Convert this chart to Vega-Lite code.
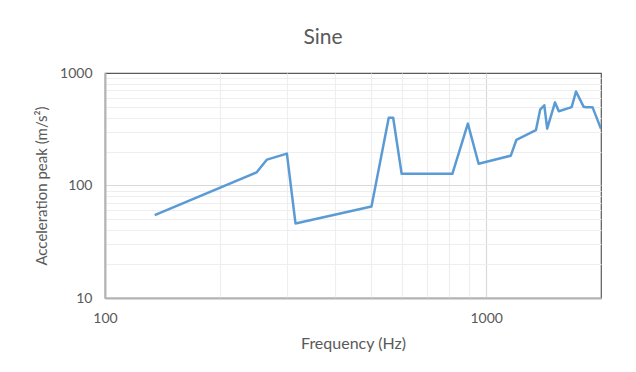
{
  "$schema": "https://vega.github.io/schema/vega-lite/v6.json",
  "autosize": {"type": "none"},
  "padding": {"left": 105, "top": 73, "right": 35, "bottom": 74},
  "width": 496,
  "height": 225,
  "background": "white",
  "title": {
    "text": "Sine",
    "fontSize": 21,
    "font": "Lato",
    "fontWeight": "normal",
    "color": "#595959",
    "anchor": "middle",
    "frame": "group",
    "dx": -30,
    "offset": 18
  },
  "data": {
    "values": [
      {"f": 135, "a": 54.5},
      {"f": 250, "a": 131},
      {"f": 266, "a": 170},
      {"f": 300, "a": 192},
      {"f": 316, "a": 46},
      {"f": 500, "a": 65},
      {"f": 555, "a": 400},
      {"f": 570, "a": 400},
      {"f": 600, "a": 127},
      {"f": 815, "a": 127},
      {"f": 895, "a": 355},
      {"f": 955, "a": 156},
      {"f": 1160, "a": 184},
      {"f": 1200, "a": 255},
      {"f": 1350, "a": 310},
      {"f": 1385, "a": 472},
      {"f": 1420, "a": 517},
      {"f": 1445, "a": 320},
      {"f": 1515, "a": 548},
      {"f": 1550, "a": 457},
      {"f": 1675, "a": 497},
      {"f": 1720, "a": 685},
      {"f": 1800, "a": 502},
      {"f": 1830, "a": 497},
      {"f": 1900, "a": 497},
      {"f": 2000, "a": 319}
    ]
  },
  "mark": {"type": "line", "color": "#5b9bd5", "strokeWidth": 2.5, "strokeJoin": "round", "clip": true},
  "encoding": {
    "x": {
      "field": "f",
      "type": "quantitative",
      "title": "Frequency (Hz)",
      "scale": {"type": "log", "domain": [100, 2000], "nice": false},
      "axis": {
        "values": [100, 200, 300, 400, 500, 600, 700, 800, 900, 1000, 2000],
        "format": "d",
        "labelExpr": "datum.value == 100 || datum.value == 1000 ? datum.label : ''",
        "labelFlush": false,
        "labelOverlap": false,
        "ticks": false,
        "labelPadding": 13,
        "titlePadding": 10,
        "titleFontSize": 16,
        "domainColor": "#b4b4b4",
        "domainWidth": 2,
        "gridColor": {"condition": {"test": "datum.value == 1000", "value": "#d9d9d9"}, "value": "#eeeeee"},
        "gridOpacity": {"condition": {"test": "datum.value == 2000", "value": 0}, "value": 1},
        "gridWidth": 1.2
      }
    },
    "y": {
      "field": "a",
      "type": "quantitative",
      "title": "Acceleration peak (m/s²)",
      "scale": {"type": "log", "domain": [10, 1000], "nice": false},
      "axis": {
        "values": [10, 20, 30, 40, 50, 60, 70, 80, 90, 100, 200, 300, 400, 500, 600, 700, 800, 900, 1000],
        "format": "d",
        "labelExpr": "datum.value == 10 || datum.value == 100 || datum.value == 1000 ? datum.label : ''",
        "labelFlush": false,
        "labelOverlap": false,
        "ticks": false,
        "labelPadding": 13,
        "titlePadding": 10,
        "titleFontSize": 15,
        "domainColor": "#b4b4b4",
        "domainWidth": 2,
        "gridColor": {"condition": {"test": "datum.value == 100", "value": "#d9d9d9"}, "value": "#eeeeee"},
        "gridOpacity": {"condition": {"test": "datum.value == 1000", "value": 0}, "value": 1},
        "gridWidth": 1.2
      }
    }
  },
  "config": {
    "view": {"stroke": "#595959", "strokeWidth": 1.2},
    "axis": {
      "labelFont": "Lato",
      "labelFontSize": 14,
      "labelColor": "#595959",
      "titleFont": "Lato",
      "titleFontWeight": "normal",
      "titleColor": "#595959"
    }
  }
}
